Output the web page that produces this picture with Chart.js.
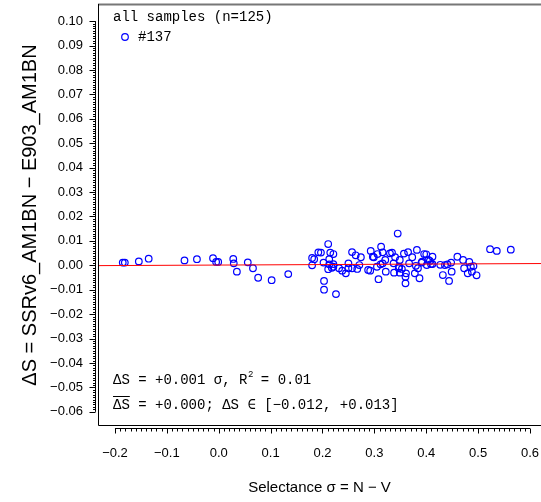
<!DOCTYPE html>
<html>
<head>
<meta charset="utf-8">
<script src="https://cdn.jsdelivr.net/npm/chart.js@4"></script>
<style>
html, body { margin: 0; padding: 0; background: #fff; }
</style>
</head>
<body>
<canvas id="myChart" width="541" height="502"></canvas>
<script>
// Selectance sigma (x) and delta S (y) of each sample
var sigmaValues = [
    -0.185, -0.181, -0.154, -0.135, -0.066, -0.042, -0.011, -0.005, -0.001, 0.028,
    0.029, 0.035, 0.056, 0.066, 0.076, 0.102, 0.134, 0.180, 0.184, 0.180,
    0.192, 0.197, 0.211, 0.215, 0.221, 0.213, 0.202, 0.213, 0.211, 0.221,
    0.203, 0.203, 0.226, 0.232, 0.238, 0.245, 0.250, 0.250, 0.257, 0.264,
    0.274, 0.271, 0.257, 0.267, 0.288, 0.292, 0.293, 0.297, 0.299, 0.306,
    0.313, 0.316, 0.308, 0.305, 0.316, 0.321, 0.322, 0.330, 0.334, 0.340,
    0.337, 0.338, 0.345, 0.349, 0.347, 0.349, 0.357, 0.361, 0.360, 0.360,
    0.365, 0.367, 0.373, 0.382, 0.380, 0.378, 0.384, 0.387, 0.392, 0.396,
    0.400, 0.401, 0.404, 0.412, 0.409, 0.412, 0.427, 0.432, 0.436, 0.444,
    0.448, 0.449, 0.460, 0.471, 0.473, 0.483, 0.486, 0.480, 0.488, 0.497,
    0.523, 0.536, 0.563, 0.312, 0.353, 0.407, 0.441, 0.218, 0.221, 0.391,
    0.348, 0.491
];
var deltaValues = [
    0.0011, 0.0011, 0.0016, 0.0027, 0.0020, 0.0025, 0.0029, 0.0014, 0.0014, 0.0026,
    0.0008, -0.0026, 0.0012, -0.0012, -0.0051, -0.0061, -0.0036, 0.0030, 0.0025, 0.0000,
    0.0053, 0.0052, 0.0087, 0.0052, 0.0046, 0.0025, 0.0011, 0.0004, -0.0016, -0.0006,
    -0.0064, -0.0100, -0.0118, -0.0012, -0.0022, -0.0033, 0.0008, -0.0012, 0.0054, 0.0041,
    0.0033, 0.0001, -0.0012, -0.0015, -0.0019, -0.0022, 0.0059, 0.0035, 0.0033, 0.0046,
    0.0076, 0.0053, -0.0057, -0.0006, 0.0008, 0.0022, -0.0026, 0.0049, 0.0052, 0.0033,
    0.0008, -0.0030, 0.0130, 0.0022, -0.0012, -0.0030, 0.0048, -0.0033, -0.0047, -0.0074,
    0.0054, 0.0008, 0.0033, 0.0063, -0.0002, -0.0033, -0.0012, -0.0053, 0.0015, 0.0046,
    0.0045, 0.0001, 0.0022, 0.0035, 0.0005, 0.0005, 0.0002, -0.0040, 0.0001, -0.0064,
    0.0011, -0.0026, 0.0035, 0.0022, -0.0012, 0.0014, -0.0006, -0.0033, -0.0026, -0.0041,
    0.0066, 0.0059, 0.0064, 0.0004, -0.0015, 0.0018, 0.0004, -0.0010, 0.0005, 0.0011,
    -0.0006, -0.0003
];

// Axis ranges and tick labels
var xRange = [-0.2327, 0.6212];
var yRange = [-0.0654, 0.1066];
var xTickValues = [-0.2, -0.1, 0.0, 0.1, 0.2, 0.3, 0.4, 0.5, 0.6];
var yTickValues = [0.10, 0.09, 0.08, 0.07, 0.06, 0.05, 0.04, 0.03, 0.02, 0.01, 0.00,
    -0.01, -0.02, -0.03, -0.04, -0.05, -0.06];

// Linear fit shown in red
var fitSlope = 0.001;
var fitIntercept = 0.0001;

var points = sigmaValues.map((s, i) => ({ x: s, y: deltaValues[i] }));
var fitLine = xRange.map(s => ({ x: s, y: fitIntercept + fitSlope * s }));

function minusSign(str) {
    return str.replace('-', '\u2212');
}

// no label overflow padding, the plot box is placed by hand
function noPadding(scale) {
    scale.paddingTop = 0;
    scale.paddingBottom = 0;
    scale.paddingLeft = 0;
    scale.paddingRight = 0;
}

var monoFont = '14px "Liberation Mono", "Courier New", monospace';

// Box, R-style axes with minor ticks, and text annotations
var framePlugin = {
    id: 'frame',
    afterDraw(chart) {
        var ctx = chart.ctx;
        var a = chart.chartArea;
        var xs = chart.scales.x;
        var ys = chart.scales.y;
        ctx.save();

        // open box
        ctx.strokeStyle = '#777';
        ctx.lineWidth = 2;
        ctx.beginPath();
        ctx.moveTo(a.left, a.top - 0.5);
        ctx.lineTo(a.right, a.top - 0.5);
        ctx.stroke();
        ctx.strokeStyle = '#000';
        ctx.lineWidth = 1;
        ctx.beginPath();
        ctx.moveTo(a.left + 0.5, a.top - 1);
        ctx.lineTo(a.left + 0.5, a.bottom + 0.5);
        ctx.lineTo(a.right, a.bottom + 0.5);
        ctx.stroke();

        // x axis line + ticks
        var ax = a.bottom + 3.5;
        var x0 = xs.getPixelForValue(xTickValues[0]);
        var x1 = xs.getPixelForValue(xTickValues[xTickValues.length - 1]);
        ctx.beginPath();
        ctx.moveTo(x0, ax);
        ctx.lineTo(x1, ax);
        for (var i = -20; i <= 60; i++) {
            var px = Math.round(xs.getPixelForValue(i / 100)) + 0.5;
            var len = (i % 10 === 0) ? 5 : 3;
            ctx.moveTo(px, ax);
            ctx.lineTo(px, ax + len);
        }
        ctx.stroke();

        // y axis line + ticks
        var ay = a.left - 2.5;
        ctx.beginPath();
        ctx.moveTo(ay, ys.getPixelForValue(yTickValues[0]));
        ctx.lineTo(ay, ys.getPixelForValue(yTickValues[yTickValues.length - 1]));
        for (var j = -60; j <= 100; j++) {
            var py = Math.round(ys.getPixelForValue(j / 1000)) + 0.5;
            var l = (j % 10 === 0) ? 6 : 2.5;
            ctx.moveTo(ay, py);
            ctx.lineTo(ay - l, py);
        }
        ctx.stroke();

        // annotations
        ctx.fillStyle = '#000';
        ctx.font = monoFont;
        ctx.textBaseline = 'middle';
        ctx.textAlign = 'left';
        var tx = a.left + 15;
        ctx.fillText('all samples (n=125)', tx, 17);

        ctx.strokeStyle = '#0000ff';
        ctx.lineWidth = 1.2;
        ctx.beginPath();
        ctx.arc(tx + 12, 37, 3.3, 0, Math.PI * 2);
        ctx.stroke();
        ctx.fillText('#137', tx + 25, 37);

        var t1 = 'ΔS = +0.001 σ, R';
        ctx.fillText(t1, tx, 380);
        var w1 = ctx.measureText(t1).width;
        ctx.font = '9px "Liberation Mono", monospace';
        ctx.fillText('2', tx + w1 + 0.5, 375);
        ctx.font = monoFont;
        ctx.fillText(' = 0.01', tx + w1 + 5, 380);

        ctx.fillText('ΔS = +0.000; ΔS ∈ [\u22120.012, +0.013]', tx, 405);
        var wd = ctx.measureText('ΔS').width;
        ctx.strokeStyle = '#000';
        ctx.lineWidth = 1;
        ctx.beginPath();
        ctx.moveTo(tx, 396.5);
        ctx.lineTo(tx + wd, 396.5);
        ctx.stroke();

        ctx.restore();
    }
};

var ctx = document.getElementById('myChart').getContext('2d');
var myChart = new Chart(ctx, {
    type: 'scatter',
    data: {
        datasets: [{
            type: 'line',
            data: fitLine,
            borderColor: '#ff0000',
            borderWidth: 1,
            pointRadius: 0,
            order: 0
        }, {
            data: points,
            pointStyle: 'circle',
            pointRadius: 3.3,
            borderWidth: 1.2,
            borderColor: '#0000ff',
            backgroundColor: 'rgba(0,0,0,0)',
            order: 1
        }]
    },
    options: {
        responsive: false,
        animation: false,
        devicePixelRatio: 1,
        layout: { autoPadding: false, padding: { top: 5, right: 0, left: 0, bottom: 0 } },
        plugins: {
            legend: { display: false },
            tooltip: { enabled: false }
        },
        scales: {
            x: {
                type: 'linear',
                min: xRange[0],
                max: xRange[1],
                grid: { display: false, drawTicks: false },
                border: { display: false },
                afterBuildTicks: scale => { scale.ticks = xTickValues.map(v => ({ value: v })); },
                afterFit: scale => { scale.height = 77; noPadding(scale); },
                ticks: {
                    padding: 21,
                    color: '#000',
                    font: { family: '"Liberation Sans", Arial', size: 13 },
                    callback: v => minusSign(v.toFixed(1))
                },
                title: {
                    display: true,
                    text: 'Selectance σ = N \u2212 V',
                    color: '#000',
                    font: { family: '"Liberation Sans", Arial', size: 15 },
                    padding: { top: 0, bottom: 5 }
                }
            },
            y: {
                type: 'linear',
                min: yRange[0],
                max: yRange[1],
                grid: { display: false, drawTicks: false },
                border: { display: false },
                afterBuildTicks: scale => { scale.ticks = yTickValues.map(v => ({ value: v })); },
                afterFit: scale => { scale.width = 98; noPadding(scale); },
                ticks: {
                    padding: 15,
                    color: '#000',
                    font: { family: '"Liberation Sans", Arial', size: 13 },
                    callback: v => minusSign(v.toFixed(2))
                },
                title: {
                    display: true,
                    text: 'ΔS = SSRv6_AM1BN \u2212 E903_AM1BN',
                    color: '#000',
                    font: { family: '"Liberation Sans", Arial', size: 20 },
                    padding: { top: 18, bottom: 0 }
                }
            }
        }
    },
    plugins: [framePlugin]
});
</script>
</body>
</html>
